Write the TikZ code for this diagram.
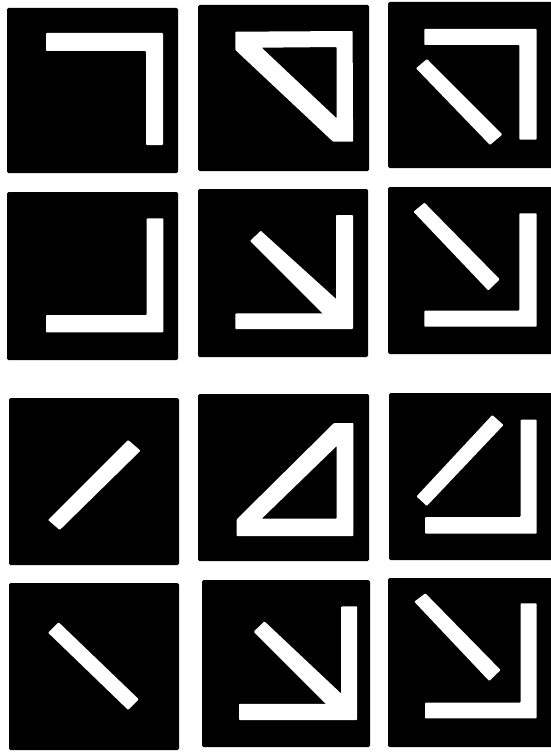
\documentclass[tikz,border=0pt]{standalone}
\begin{document}
\begin{tikzpicture}[x=1pt,y=-1pt,
  panel/.style={fill=black,rounded corners=1.5pt},
  bar/.style={fill=white,rounded corners=0.8pt},
  tri/.style={fill=white,even odd rule,rounded corners=0.8pt}]
\useasboundingbox (0,0) rectangle (551,752);
\fill[white] (0,0) rectangle (551,752);
% ---------- panels ----------
\fill[panel] (7,8) rectangle (178,173);
\fill[panel] (198,5) rectangle (369,171);
\fill[panel] (388,2) rectangle (556,168);
\fill[panel] (7,192) rectangle (178,360);
\fill[panel] (198,189) rectangle (368,357);
\fill[panel] (388,187) rectangle (556,354);
\fill[panel] (9,398) rectangle (179,565);
\fill[panel] (198,394) rectangle (369,561);
\fill[panel] (389,393) rectangle (556,560);
\fill[panel] (9,583) rectangle (179,750);
\fill[panel] (202,580) rectangle (370,747);
\fill[panel] (388,578) rectangle (556,747);
% ---------- row 1 ----------
\fill[bar] (46,33) -- (163,33) -- (163,145) -- (146,145) -- (146,51) -- (46,51) -- cycle;
\fill[tri] (235.4,31.7) -- (352.6,31) -- (353.1,141.7) -- (333.1,141.7) -- (235.4,50) -- cycle
           (261.7,47.7) -- (336.6,47) -- (336.6,118.3) -- cycle;
\fill[bar] (424.3,29) -- (536.7,29) -- (536.7,139.5) -- (519.3,139.5) -- (519.3,45) -- (424.3,45) -- cycle;
\fill[bar] (416,68.3) -- (427,59) -- (502.3,134.5) -- (490,145) -- cycle;
% ---------- row 2 ----------
\fill[bar] (146.7,218.3) -- (163.3,218.3) -- (163.3,332.3) -- (46,332.3) -- (46,315) -- (146.7,315) -- cycle;
\fill[bar] (336,215) -- (353,215) -- (353,329) -- (235.4,329) -- (235.4,313.3) -- (336,313.3) -- cycle;
\fill[bar] (250.1,241) -- (260.7,230.7) -- (345,307) -- (345,320) -- (329,320) -- cycle;
\fill[bar] (519.3,213.3) -- (536.7,213.3) -- (536.7,326.7) -- (424.3,326.7) -- (424.3,310.7) -- (519.3,310.7) -- cycle;
\fill[bar] (413.4,211.7) -- (424.5,202.7) -- (499.8,279.3) -- (488.3,290.5) -- cycle;
% ---------- row 3 ----------
\fill[bar] (48.1,520) -- (59.7,530) -- (140.5,450.7) -- (128.2,440) -- cycle;
\fill[tri] (236.7,536) -- (236.7,519.3) -- (334,423) -- (353.3,423) -- (353.3,536) -- cycle
           (261.7,518.7) -- (336.7,518.7) -- (336.7,446) -- cycle;
\fill[bar] (520.5,419.7) -- (536.7,419.7) -- (536.7,533.7) -- (425.2,533.7) -- (425.2,517) -- (520.5,517) -- cycle;
\fill[bar] (416.5,496.4) -- (426.8,506) -- (503.5,425) -- (492.3,415) -- cycle;
% ---------- row 4 ----------
\fill[bar] (48.1,632.7) -- (58.7,622.3) -- (138.8,699.3) -- (128.2,710) -- cycle;
\fill[bar] (341.2,606.3) -- (357.2,606.3) -- (357.2,720) -- (239,720) -- (239,703.8) -- (341.2,703.8) -- cycle;
\fill[bar] (253.7,631.7) -- (264.4,621.3) -- (348,700) -- (348,712) -- (334,712) -- cycle;
\fill[bar] (520.5,603.3) -- (536.7,603.3) -- (536.7,718.3) -- (425,718.3) -- (425,702.7) -- (520.5,702.7) -- cycle;
\fill[bar] (414.3,601.7) -- (425.4,593.3) -- (500.6,670) -- (489.2,681) -- cycle;
\end{tikzpicture}
\end{document}
